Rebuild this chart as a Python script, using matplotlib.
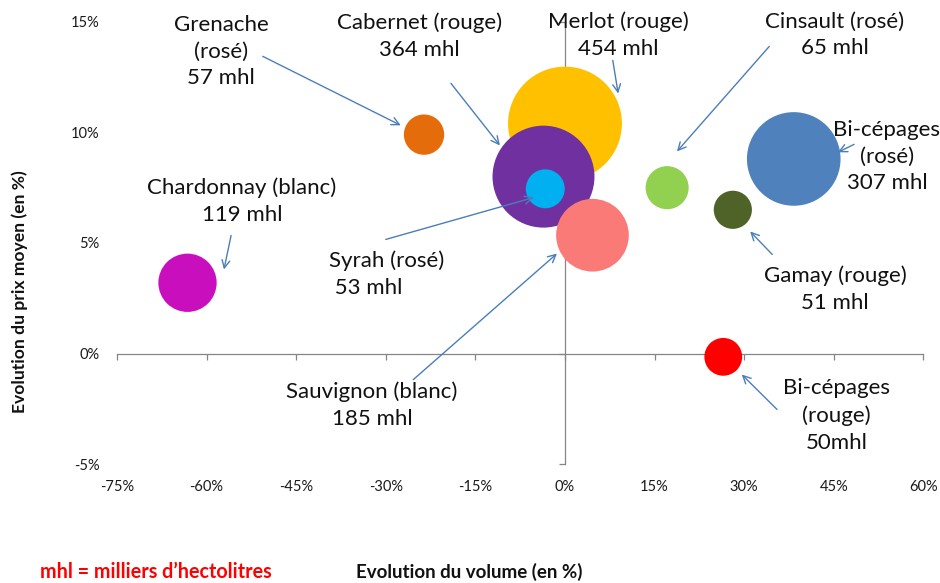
import numpy as np
import matplotlib.pyplot as plt
import matplotlib.transforms as mtransforms

plt.rcParams['font.family'] = ['Lato', 'DejaVu Sans']

# bubble data: evolution du volume (%), evolution du prix moyen (%), volume (mhl)
cepages = ['Merlot (rouge)', 'Cabernet (rouge)', 'Syrah (rosé)', 'Sauvignon (blanc)',
           'Grenache (rosé)', 'Chardonnay (blanc)', 'Cinsault (rosé)',
           'Bi-cépages (rosé)', 'Gamay (rouge)', 'Bi-cépages (rouge)']
vol_evo = [0.0, -3.6, -3.3, 4.6, -23.6, -63.2, 17.1, 38.3, 28.1, 26.5]
prix_evo = [10.4, 8.0, 7.45, 5.35, 9.9, 3.2, 7.5, 8.8, 6.5, -0.15]
mhl = [454, 364, 53, 185, 57, 119, 65, 307, 51, 50]
couleurs = ['#FFC000', '#7030A0', '#00B0F0', '#FA7A78', '#E46C0A', '#C90EBE',
            '#92D050', '#4F81BD', '#4F6228', '#FF0000']

# annotation texts
labels = ['Merlot (rouge)\n454 mhl', 'Cabernet (rouge)\n364 mhl', 'Syrah (rosé)\n 53 mhl',
          'Sauvignon (blanc)\n185 mhl', 'Grenache\n(rosé)\n57 mhl',
          'Chardonnay (blanc)\n119 mhl', 'Cinsault (rosé)\n65 mhl',
          'Bi-cépages\n(rosé)\n307 mhl', 'Gamay (rouge)\n51 mhl',
          'Bi-cépages\n(rouge)\n50mhl']
xticks = [-75, -60, -45, -30, -15, 0, 15, 30, 45, 60]
yticks = [-5, 0, 5, 10, 15]

# label placement and arrows (tail -> head), in data units
txt_pos = [(8.9, 14.4), (-24.4, 14.35), (-39.5, 3.6), (-32.3, -2.35), (-57.6, 13.65),
           (-54.1, 6.9), (45.2, 14.4), (53.9, 8.9), (45.2, 2.9), (45.5, -2.8)]
txt_ha = ['center', 'center', 'left', 'center', 'center',
          'center', 'center', 'center', 'center', 'center']
arrows = [((8.0, 13.26), (8.9, 11.76)), ((-19.1, 12.22), (-10.9, 9.41)),
          ((-30.0, 5.16), (-5.2, 7.06)), ((-25.4, -1.18), (-1.34, 4.52)),
          ((-50.6, 13.44), (-27.5, 10.32)), ((-55.9, 5.34), (-57.1, 3.80)),
          ((34.2, 13.89), (18.75, 9.14)), ((48.4, 9.46), (45.7, 9.10)),
          ((34.7, 4.48), (31.0, 5.52)), ((35.5, -2.53), (29.6, -0.95))]

fig = plt.figure(figsize=(9.4, 5.83), dpi=100)
ax = fig.add_axes([0.1245, 0.204, 0.8578, 0.7585])
ax.set_xlim(-75, 60)
ax.set_ylim(-5, 15)

sizes = np.array(mhl) * 14.8
ax.scatter(vol_evo, prix_evo, s=sizes, c=couleurs, edgecolors='none', zorder=3)

for spine in ['top', 'right']:
    ax.spines[spine].set_visible(False)
ax.spines['left'].set_position(('data', 0))
ax.spines['bottom'].set_position(('data', 0))
for spine in ['left', 'bottom']:
    ax.spines[spine].set_color('#868686')
    ax.spines[spine].set_linewidth(0.9)
ax.set_xticks(xticks)
ax.set_yticks(yticks)
ax.tick_params(colors='#868686', length=4, width=0.9, direction='out',
               labelleft=False, labelbottom=False)

# tick labels stay at the edges of the plot area (Excel style)
tx = mtransforms.blended_transform_factory(ax.transData, ax.transAxes)
for v in xticks:
    ax.text(v, -0.052, f'{v}%', transform=tx, ha='center', va='center',
            fontsize=10.5, color='#1a1a1a')
ty = mtransforms.blended_transform_factory(ax.transAxes, ax.transData)
for v in yticks:
    ax.text(-0.022, v, f'{v}%', transform=ty, ha='right', va='center_baseline',
            fontsize=10.5, color='#1a1a1a')

for lab, (px, py), ha in zip(labels, txt_pos, txt_ha):
    ax.text(px, py, lab, ha=ha, va='center', multialignment=ha,
            fontsize=16, linespacing=1.42, color='#111111', zorder=4)
for tail, head in arrows:
    ax.annotate('', xy=head, xytext=tail,
                arrowprops=dict(arrowstyle='->', color='#4A7EBB', lw=1.0,
                                mutation_scale=14, shrinkA=0, shrinkB=0),
                zorder=5)

fig.text(0.021, 0.5, 'Evolution du prix moyen (en %)', rotation=90, ha='center', va='center',
         fontsize=12.6, fontweight='bold', color='#111111')
fig.text(0.499, 0.019, 'Evolution du volume (en %)', ha='center', va='center',
         fontsize=13.5, fontweight='bold', color='#111111')
fig.text(0.043, 0.019, 'mhl = milliers d’hectolitres', ha='left', va='center',
         fontsize=14.2, fontweight='bold', color='#FF0000')

fig.savefig('out.png', dpi=100)
